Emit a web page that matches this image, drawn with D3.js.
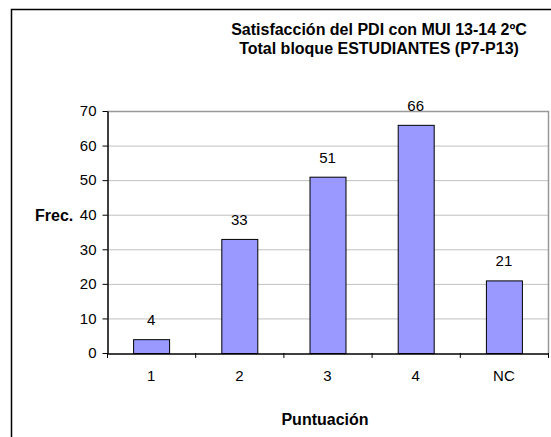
<!DOCTYPE html>
<html><head><meta charset="utf-8">
<script src="https://cdn.jsdelivr.net/npm/d3@7"></script>
<style>body{margin:0;background:#fff}svg{display:block;font-family:"Liberation Sans",Arial,sans-serif}</style>
</head><body>
<script>
const categories = ["1","2","3","4","NC"];
const values = [4,33,51,66,21];
const yTicks = [0,10,20,30,40,50,60,70];
const titleLines = ["Satisfacción del PDI con MUI 13-14 2ºC","Total bloque ESTUDIANTES (P7-P13)"];
const xTitle = "Puntuación";
const yTitle = "Frec.";

const W=551,H=437;
const svg=d3.select("body").append("svg").attr("width",W).attr("height",H);
svg.append("rect").attr("width",W).attr("height",H).attr("fill","#fff");
// outer chart border
svg.append("path").attr("d","M11.5,"+(H+5)+"V9.5H"+(W+5)).attr("fill","none").attr("stroke","#000").attr("stroke-width",1.5);

const L=107,R=548,T=111,B=353;
const x=d3.scaleBand().domain(categories).range([L,R]).paddingInner(0).paddingOuter(0);
const y=d3.scaleLinear().domain([0,70]).range([B,T]);

// gridlines
svg.append("g").selectAll("line").data(yTicks.filter(d=>d>0&&d<70)).join("line")
 .attr("x1",L).attr("x2",R).attr("y1",d=>y(d)+0.5).attr("y2",d=>y(d)+0.5)
 .attr("stroke","#c0c0c0").attr("stroke-width",1);
// plot border top/right
svg.append("path").attr("d",`M${L},${T+0.5}H${R+0.5}V${B}`).attr("fill","none").attr("stroke","#999").attr("stroke-width",1.5);

// bars
const bw=36;
svg.append("g").selectAll("rect").data(values).join("rect")
 .attr("x",(d,i)=>x(categories[i])+x.bandwidth()/2-bw/2+0.5)
 .attr("y",d=>y(d)+0.5).attr("width",bw).attr("height",d=>B-y(d))
 .attr("fill","#9999ff").attr("stroke","#000").attr("stroke-width",1);
// labels
svg.append("g").selectAll("text").data(values).join("text")
 .attr("x",(d,i)=>x(categories[i])+x.bandwidth()/2).attr("y",d=>y(d)-14)
 .attr("text-anchor","middle").attr("font-size",15).attr("fill","#000").text(d=>d);

// y axis
const ya=svg.append("g").attr("transform",`translate(${L+0.5},0)`)
 .call(d3.axisLeft(y).tickValues(yTicks).tickSize(5).tickPadding(6).tickSizeOuter(0));
ya.select(".domain").attr("stroke","#000").attr("stroke-width",1.5);
ya.selectAll(".tick line").attr("stroke","#000");
ya.selectAll("text").attr("font-size",15).attr("font-family","Liberation Sans, Arial, sans-serif").attr("fill","#000");

// x axis
const xa=svg.append("g").attr("transform",`translate(0,${B+0.5})`)
 .call(d3.axisBottom(x).tickSize(0).tickPadding(17));
xa.select(".domain").attr("stroke","#000").attr("stroke-width",1.5);
xa.selectAll("text").attr("font-size",15).attr("font-family","Liberation Sans, Arial, sans-serif").attr("fill","#000");
// band boundary ticks
svg.append("g").selectAll("line").data(categories.concat(["_end"])).join("line")
 .attr("x1",(d,i)=>i<categories.length?x(d)+0.5:R+0.5).attr("x2",(d,i)=>i<categories.length?x(d)+0.5:R+0.5)
 .attr("y1",B).attr("y2",B+5).attr("stroke","#000");

// titles
svg.append("g").selectAll("text").data(titleLines).join("text")
 .attr("x",379).attr("y",(d,i)=>35+i*19).attr("text-anchor","middle")
 .attr("font-size",16).attr("font-weight","bold").text(d=>d);
svg.append("text").attr("x",325).attr("y",425).attr("text-anchor","middle")
 .attr("font-size",16).attr("font-weight","bold").text(xTitle);
svg.append("text").attr("x",35).attr("y",221)
 .attr("font-size",16).attr("font-weight","bold").text(yTitle);
</script>
</body></html>
